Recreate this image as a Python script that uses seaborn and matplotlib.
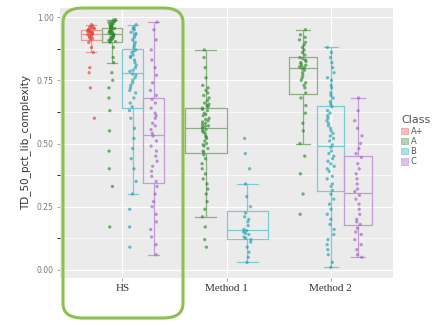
import numpy as np
import pandas as pd
import matplotlib
matplotlib.use("Agg")
import matplotlib.pyplot as plt
import matplotlib.transforms as mtransforms
from matplotlib.patches import FancyBboxPatch, Patch
import seaborn as sns

methods = ["HS", "Method 1", "Method 2"]
classes = ["A+", "A", "B", "C"]
point_colors = ["#E0443C", "#2F8A2A", "#22A0B2", "#A062C2"]
box_colors = ["#EC9A94", "#8FAE88", "#7CCAD4", "#C59AD8"]
yticks = [0.00, 0.25, 0.50, 0.75, 1.00]

hs_aplus = [0.97, 0.965, 0.96, 0.96, 0.955, 0.955, 0.95, 0.95, 0.948, 0.945,
            0.943, 0.94, 0.94, 0.938, 0.935, 0.932, 0.93, 0.928, 0.925, 0.92,
            0.918, 0.915, 0.91, 0.90, 0.88, 0.86, 0.80, 0.78, 0.72, 0.60]
hs_a = [0.99, 0.988, 0.985, 0.983, 0.98, 0.978, 0.975, 0.973, 0.97, 0.968,
        0.965, 0.963, 0.96, 0.958, 0.957, 0.955, 0.953, 0.95, 0.948, 0.946,
        0.944, 0.942, 0.94, 0.938, 0.937, 0.935, 0.933, 0.93, 0.928, 0.925,
        0.922, 0.92, 0.917, 0.915, 0.912, 0.91, 0.908, 0.905, 0.903, 0.90,
        0.88, 0.84, 0.82, 0.78, 0.75, 0.72, 0.68, 0.63, 0.55, 0.47, 0.40,
        0.33, 0.17]
hs_b = [0.97, 0.96, 0.955, 0.95, 0.94, 0.935, 0.93, 0.92, 0.91, 0.90, 0.89, 0.88,
        0.87, 0.865, 0.86, 0.85, 0.845, 0.84, 0.83, 0.82, 0.81, 0.80, 0.79, 0.785,
        0.775, 0.77, 0.76, 0.75, 0.74, 0.73, 0.72, 0.71, 0.70, 0.68, 0.66, 0.645,
        0.63, 0.60, 0.56, 0.52, 0.48, 0.44, 0.40, 0.35, 0.30, 0.24, 0.17, 0.09]
hs_c = [0.98, 0.95, 0.91, 0.87, 0.83, 0.80, 0.77, 0.74, 0.71, 0.69,
        0.675, 0.66, 0.64, 0.62, 0.61, 0.60, 0.58, 0.57, 0.555, 0.54,
        0.53, 0.51, 0.49, 0.47, 0.45, 0.43, 0.41, 0.39, 0.37, 0.35,
        0.33, 0.30, 0.27, 0.25, 0.22, 0.19, 0.16, 0.13, 0.10, 0.06]
m1_a = [0.87, 0.84, 0.80, 0.76, 0.73, 0.72, 0.71, 0.70, 0.69, 0.68, 0.67, 0.66, 0.655, 0.65, 0.645,
        0.64, 0.635, 0.63, 0.62, 0.615, 0.61, 0.60, 0.595, 0.59, 0.585, 0.58, 0.575, 0.57, 0.568, 0.565,
        0.56, 0.555, 0.55, 0.545, 0.54, 0.53, 0.525, 0.52, 0.51, 0.50, 0.495, 0.49, 0.48, 0.47, 0.465,
        0.455, 0.44, 0.42, 0.40, 0.38, 0.36, 0.34, 0.32, 0.30, 0.27, 0.24, 0.21, 0.17, 0.12, 0.09]
m1_b = [0.52, 0.46, 0.40, 0.34, 0.29, 0.25,
        0.225, 0.21, 0.20, 0.19, 0.175, 0.16,
        0.155, 0.15, 0.145, 0.14, 0.13, 0.125,
        0.12, 0.11, 0.09, 0.07, 0.05, 0.03]
m2_a = [0.95, 0.93, 0.92, 0.91, 0.90, 0.89, 0.88, 0.87, 0.86, 0.85,
        0.84, 0.835, 0.83, 0.825, 0.82, 0.815, 0.81, 0.807, 0.803, 0.80,
        0.795, 0.79, 0.78, 0.77, 0.76, 0.75, 0.74, 0.73, 0.72, 0.70,
        0.68, 0.65, 0.62, 0.58, 0.55, 0.50, 0.45, 0.38, 0.30, 0.22]
m2_b = [0.88, 0.86, 0.84, 0.82, 0.80, 0.78, 0.76, 0.75, 0.73, 0.72, 0.70, 0.69, 0.68, 0.665, 0.655,
        0.645, 0.63, 0.62, 0.61, 0.60, 0.59, 0.58, 0.57, 0.56, 0.55, 0.54, 0.53, 0.52, 0.51, 0.495,
        0.485, 0.47, 0.46, 0.45, 0.44, 0.43, 0.42, 0.41, 0.40, 0.39, 0.37, 0.36, 0.34, 0.33, 0.315,
        0.30, 0.28, 0.26, 0.24, 0.22, 0.20, 0.18, 0.16, 0.14, 0.12, 0.10, 0.08, 0.06, 0.03, 0.01]
m2_c = [0.68, 0.63, 0.59, 0.56, 0.53, 0.50, 0.48, 0.46,
        0.445, 0.42, 0.40, 0.38, 0.36, 0.34, 0.32, 0.31,
        0.295, 0.28, 0.26, 0.24, 0.22, 0.20, 0.19, 0.18,
        0.165, 0.15, 0.14, 0.12, 0.10, 0.08, 0.06, 0.05]

groups = [("HS", "A+", hs_aplus), ("HS", "A", hs_a), ("HS", "B", hs_b), ("HS", "C", hs_c),
          ("Method 1", "A", m1_a), ("Method 1", "B", m1_b),
          ("Method 2", "A", m2_a), ("Method 2", "B", m2_b), ("Method 2", "C", m2_c)]
rows = []
for m, c, vals in groups:
    for v in vals:
        rows.append({"Method": m, "Class": c, "TD_50_pct_lib_complexity": v})
df = pd.DataFrame(rows)

pt_pal = dict(zip(classes, point_colors))
box_pal = dict(zip(classes, box_colors))

np.random.seed(3)
fig = plt.figure(figsize=(4.38, 3.26), dpi=100)
ax = fig.add_axes([60 / 438, 1 - 278 / 326, (393 - 60) / 438, 270 / 326])
ax.set_facecolor("#EBEBEB")
ax.set_axisbelow(True)

for m in methods:
    sub = df[df["Method"] == m]
    present = [c for c in classes if c in set(sub["Class"])]
    n_before = len(ax.patches)
    sns.boxplot(data=sub, x="Method", y="TD_50_pct_lib_complexity", hue="Class",
                order=methods, hue_order=present, palette=box_pal, dodge=True,
                width=0.8, gap=0, fill=False, showfliers=False, linewidth=0.9,
                legend=False, ax=ax)
    for p in ax.patches[n_before:]:
        p.set_facecolor("white")
        p.set_zorder(2)
    sns.stripplot(data=sub, x="Method", y="TD_50_pct_lib_complexity", hue="Class",
                  order=methods, hue_order=present, palette=pt_pal, dodge=True,
                  jitter=0.035 * len(present), size=2.4, alpha=0.65, linewidth=0,
                  legend=False, ax=ax, zorder=3)

ax.set_xlim(-0.6, 2.6)
ax.set_ylim(-0.032, 1.036)
ax.set_yticks(yticks)
ax.set_yticklabels([f"{t:.2f}" for t in yticks], fontsize=5.5, color="#777777")
ax.set_yticks([0.125, 0.375, 0.625, 0.875], minor=True)
ax.grid(True, which="major", color="white", linewidth=0.9)
ax.grid(True, which="minor", axis="y", color="white", linewidth=0.5)
ax.set_xticks([0, 1, 2])
ax.set_xticklabels(methods, fontsize=8, family="Liberation Serif", color="#333333")
offset = mtransforms.ScaledTranslation(0.09, 0, fig.dpi_scale_trans)
for lab in ax.get_xticklabels():
    lab.set_transform(lab.get_transform() + offset)
ax.tick_params(axis="both", length=2.5, color="#999999", width=0.6, pad=2)
ax.set_xlabel("")
ax.set_ylabel("TD_50_pct_lib_complexity", fontsize=7.5, color="#333333", labelpad=4)
for s in ax.spines.values():
    s.set_visible(False)

handles = [Patch(facecolor=box_colors[i], edgecolor=point_colors[i], linewidth=0.4,
                 alpha=0.6) for i in range(4)]
leg = fig.legend(handles, classes, title="Class", loc="upper left",
                 bbox_to_anchor=(398 / 438, 1 - 112 / 326), frameon=False,
                 fontsize=6, title_fontsize=8, handlelength=0.8, handleheight=0.8,
                 labelspacing=0.15, handletextpad=0.3, borderaxespad=0)
leg._legend_box.align = "left"
for t in leg.get_texts():
    t.set_color("#555555")
leg.get_title().set_color("#555555")

box = FancyBboxPatch((63 / 438, 1 - 318 / 326), (183 - 63) / 438, (318 - 8) / 326,
                     boxstyle="round,pad=0,rounding_size=0.045",
                     transform=fig.transFigure, facecolor="none",
                     edgecolor="#8DC050", linewidth=2.2, zorder=10)
fig.patches.append(box)

fig.savefig("out.png", dpi=100, facecolor="white")
